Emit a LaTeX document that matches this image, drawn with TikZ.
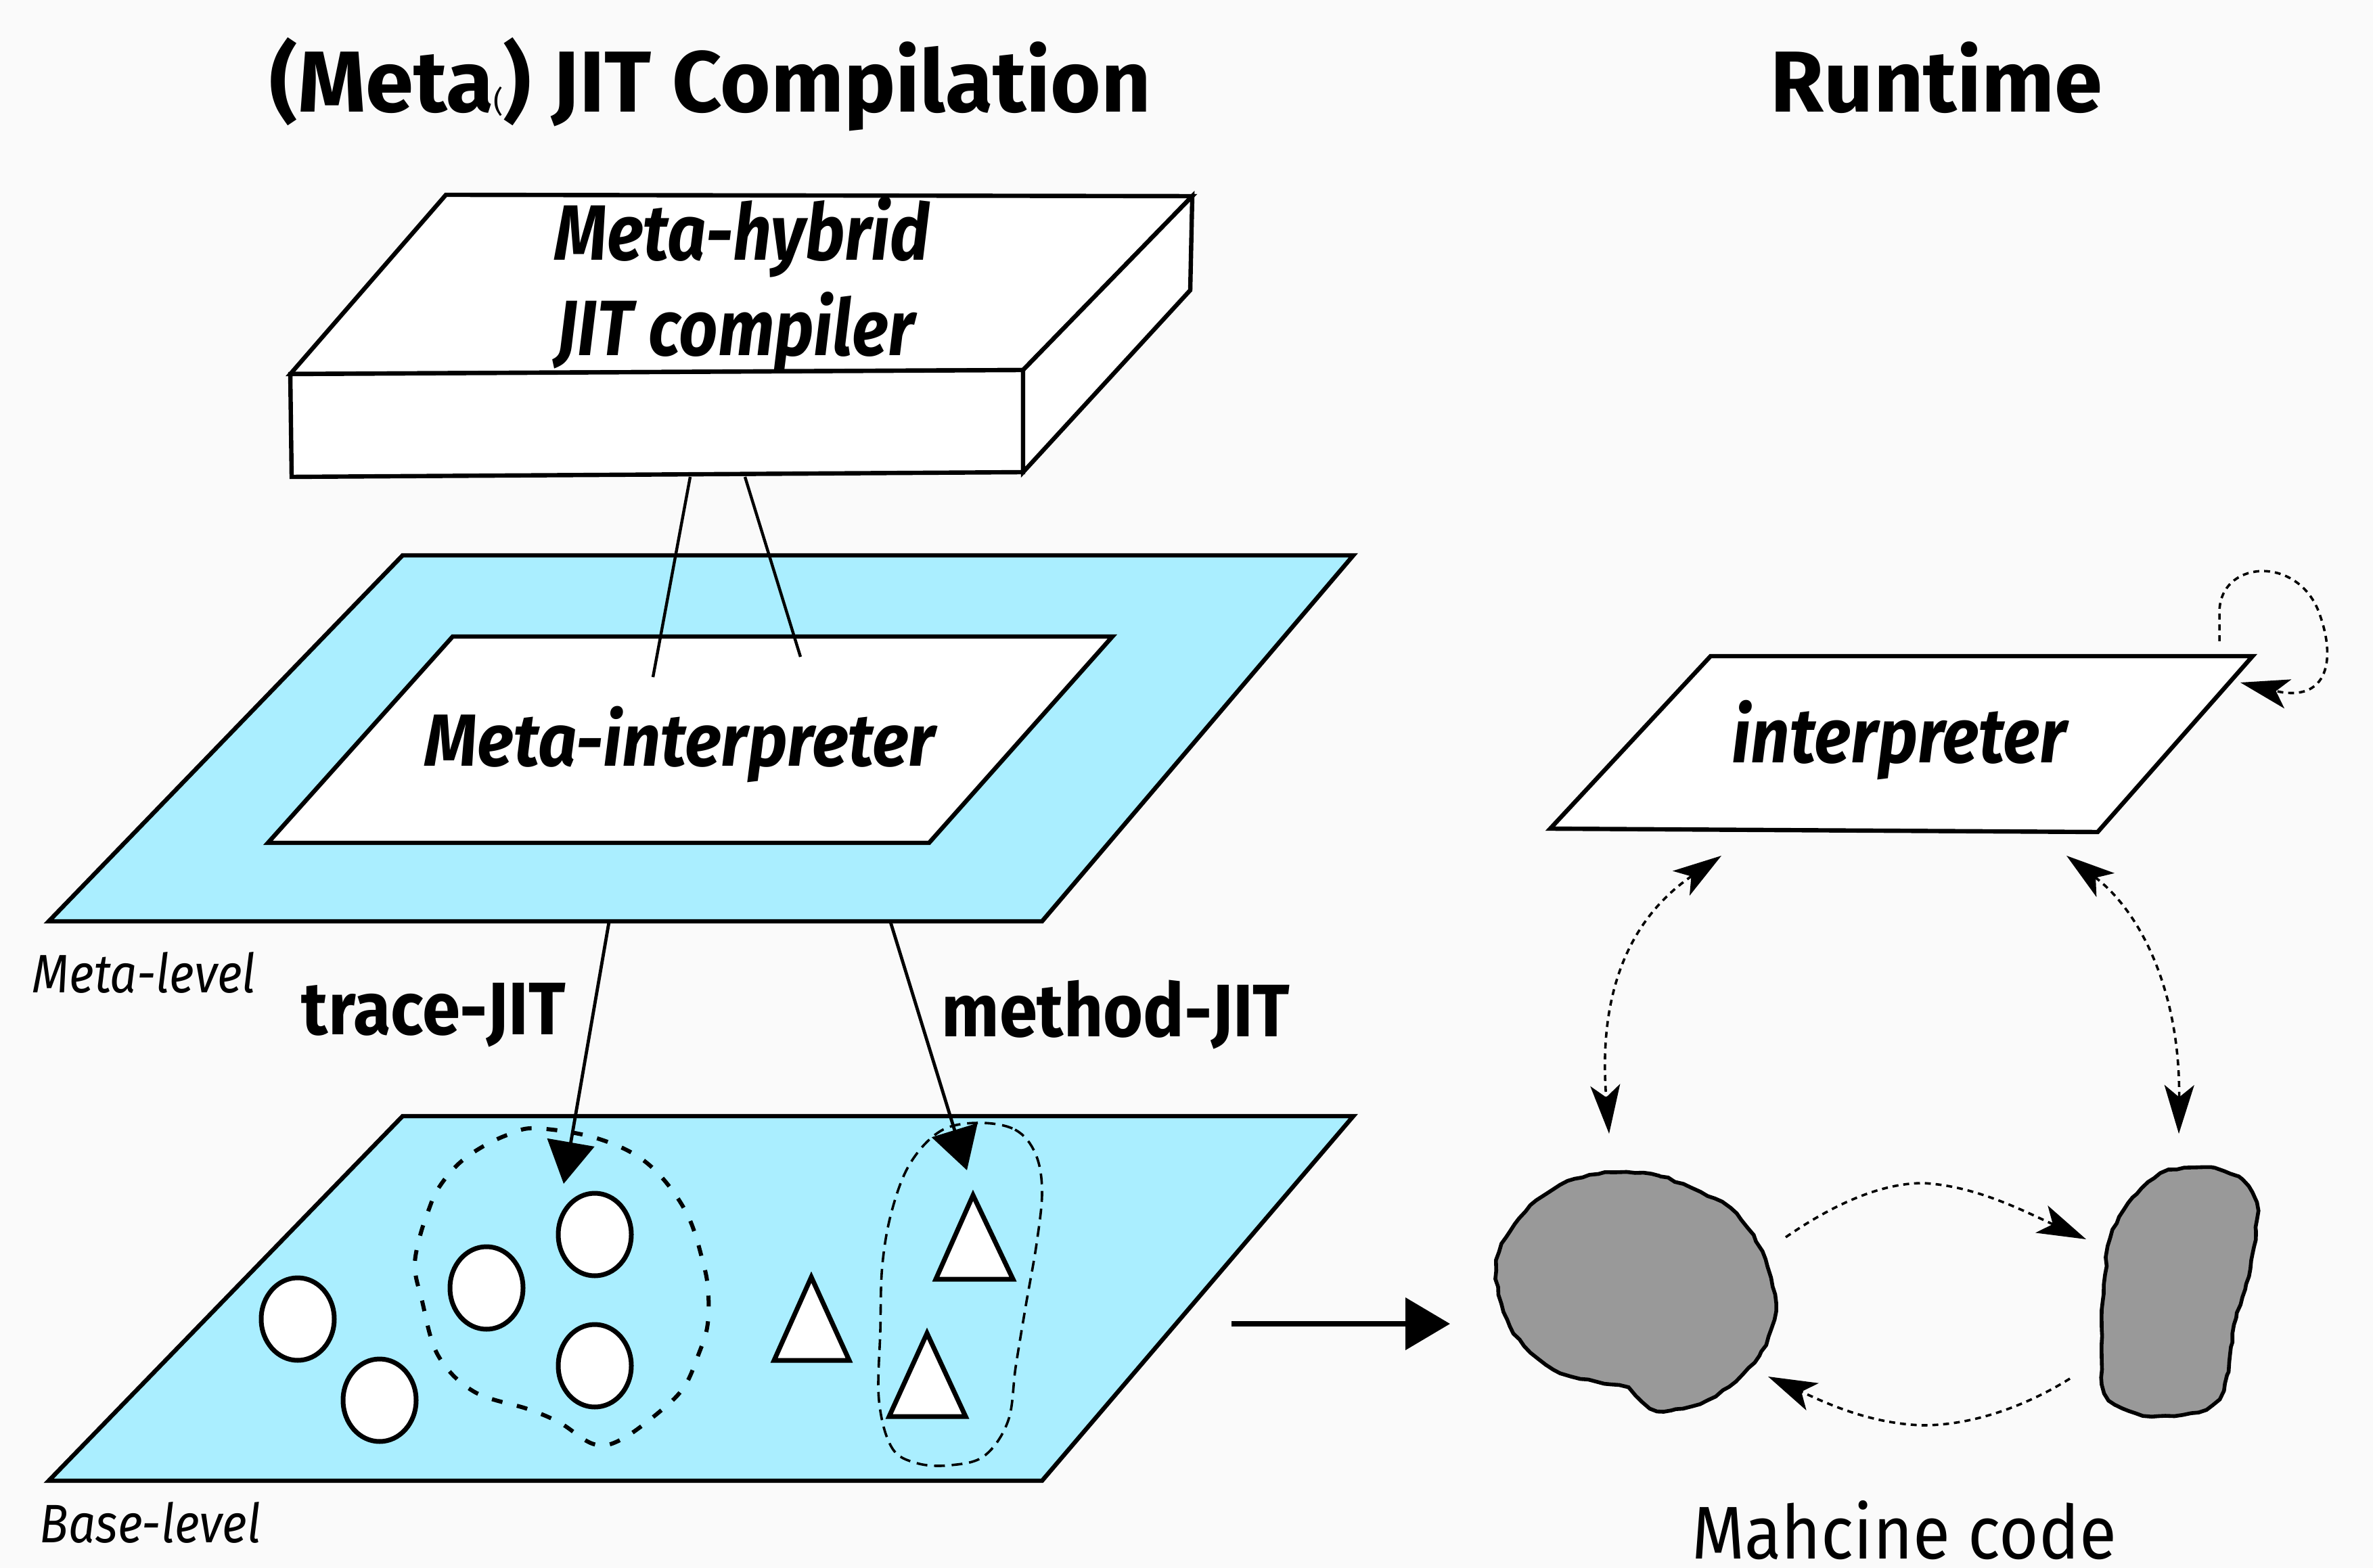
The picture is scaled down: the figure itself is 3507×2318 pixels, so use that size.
\documentclass[tikz,border=0pt]{standalone}
\usepackage{fontspec}
\setmainfont{Fira Sans}
\usetikzlibrary{arrows.meta,decorations.pathmorphing}
\definecolor{bgcol}{HTML}{FAFAFA}
\definecolor{levelblue}{HTML}{AAEEFF}
\definecolor{codegray}{HTML}{999999}

\begin{document}
\begin{tikzpicture}[x=0.25pt,y=-0.25pt,
  edge/.style={line width=1.6pt, line join=miter},
  levelplane/.style={edge, draw=black, fill=levelblue},
  whiteplane/.style={edge, draw=black, fill=white},
  token/.style={draw=black, line width=1.75pt, fill=white},
  link/.style={line width=1.1pt},
  jitarrow/.style={line width=1.2pt, -{Triangle[length=15.5pt,width=17.5pt]}},
  bigarrow/.style={line width=2pt, -{Triangle[length=16.5pt,width=19pt]}},
  traceregion/.style={line width=1.5pt, dash pattern=on 4pt off 5.5pt},
  methodregion/.style={line width=0.9pt, dash pattern=on 4pt off 2.5pt},
  flow/.style={line width=0.9pt, dash pattern=on 2.2pt off 1.8pt},
  dart/.tip={Stealth[length=18pt,width=11pt,inset=4.5pt]},
  codeblob/.style={draw=black, line width=1.4pt, fill=codegray,
    decorate, decoration={random steps, segment length=3pt, amplitude=0.35pt}},
  lbl/.style={inner sep=0pt, anchor=base},
  titlefont/.style={lbl, font=\fontsize{32pt}{36pt}\selectfont\bfseries},
  hybridfont/.style={lbl, font=\fontsize{29pt}{32pt}\selectfont\bfseries\itshape\addfontfeatures{FakeStretch=0.865}},
  metafont/.style={lbl, font=\fontsize{27.3pt}{30pt}\selectfont\bfseries\itshape\addfontfeatures{FakeStretch=0.92}},
  interpfont/.style={lbl, font=\fontsize{28.5pt}{32pt}\selectfont\bfseries\itshape\addfontfeatures{FakeStretch=0.888}},
  jitfont/.style={lbl, font=\fontsize{27.5pt}{30pt}\selectfont\bfseries\addfontfeatures{FakeStretch=0.92}},
  levelfont/.style={lbl, font=\fontsize{20pt}{24pt}\selectfont\itshape\addfontfeatures{FakeStretch=0.885}},
  codefont/.style={lbl, font=\fontsize{27.6pt}{30pt}\selectfont\addfontfeatures{FakeStretch=0.91}}
]
\fill[bgcol] (0,0) rectangle (3507,2318);
\useasboundingbox (0,0) rectangle (3507,2318);

% ---------- titles ----------
\node[titlefont] (titleL) at (1050,166) {(Meta{\fontsize{11pt}{11pt}\selectfont\mdseries(}) JIT Compilation};
\node[titlefont] (titleR) at (2862,166) {Runtime};

% ---------- meta-hybrid JIT compiler slab ----------
\draw[whiteplane] (659,288) -- (1762,290) -- (1512,547) -- (429,553) -- cycle;
\draw[whiteplane] (429,553) -- (1512,547) -- (1512,698) -- (431,705) -- cycle;
\draw[whiteplane] (1512,547) -- (1762,290) -- (1759,429) -- (1512,698) -- cycle;
\node[hybridfont] (hybridA) at (1097,385) {Meta-hybrid};
\node[hybridfont] (hybridB) at (1087,526) {JIT compiler};
\coordinate (compL) at (1020,705);
\coordinate (compR) at (1101,705);

% ---------- meta-level ----------
\draw[levelplane] (595,821) -- (2000,821) -- (1540,1362) -- (72,1362) -- cycle;
\draw[whiteplane] (669,941) -- (1644,941) -- (1373,1246) -- (396,1246) -- cycle;
\node[metafont] (metainterp) at (1005,1133) {Meta-interpreter};
\coordinate (miL) at (965,1001);
\coordinate (miR) at (1183,971);
\draw[link] (compL) -- (miL);
\draw[link] (compR) -- (miR);
\node[levelfont] (metalevel) at (213,1467) {Meta-level};

% ---------- base-level ----------
\draw[levelplane] (595,1650) -- (2000,1650) -- (1540,2189) -- (72,2189) -- cycle;
\node[levelfont] (baselevel) at (222,2280) {Base-level};

% trace region (dashed)
\draw[traceregion] plot[smooth cycle, tension=0.6] coordinates {
  (793,1668) (883,1683) (957,1720) (1013,1790) (1040,1870) (1047,1917)
  (1045,1963) (1032,2003) (1013,2047) (983,2080) (920,2127) (878,2135)
  (827,2103) (780,2083) (700,2057) (647,2003) (623,1920) (613,1873)
  (620,1830) (633,1790) (647,1758) (675,1723) (710,1697) (752,1677)};
% method region (dashed)
\draw[methodregion] plot[smooth cycle, tension=0.6] coordinates {
  (1445,1660) (1500,1670) (1530,1705) (1540,1760) (1532,1838)
  (1516,1930) (1501,2021) (1490,2100) (1455,2152) (1405,2166)
  (1355,2163) (1318,2140) (1299,2070) (1301,1966) (1304,1870)
  (1318,1790) (1345,1720) (1390,1672)};

% values in the base level
\draw[token] (440,1950) ellipse [x radius=54, y radius=61];
\draw[token] (561,2070) ellipse [x radius=54, y radius=61];
\draw[token] (719,1904) ellipse [x radius=54, y radius=61];
\draw[token] (879,1825) ellipse [x radius=54, y radius=61];
\draw[token] (879,2019) ellipse [x radius=54, y radius=61];
\draw[token, line join=miter] (1199,1888) -- (1255,2011) -- (1144,2011) -- cycle;
\draw[token, line join=miter] (1438,1767) -- (1497,1891) -- (1383,1891) -- cycle;
\draw[token, line join=miter] (1370,1971) -- (1427,2094) -- (1314,2094) -- cycle;

% JIT arrows
\coordinate (traceS) at (900,1363);
\coordinate (traceE) at (833,1750);
\coordinate (methodS) at (1316,1363);
\coordinate (methodE) at (1429,1730);
\draw[jitarrow] (traceS) -- (traceE);
\draw[jitarrow] (methodS) -- (methodE);
\node[jitfont] (tracejit) at (641,1529) {trace-JIT};
\node[jitfont] (methodjit) at (1649,1532) {method-JIT};

% compilation to runtime
\coordinate (toRunS) at (1820,1957);
\coordinate (toRunE) at (2143,1957);
\draw[bigarrow] (toRunS) -- (toRunE);

% ---------- runtime ----------
\draw[whiteplane] (2528,970) -- (3329,970) -- (3100,1230) -- (2291,1225) -- cycle;
\node[interpfont] (interp) at (2807,1128) {interpreter};

% machine code blobs
\draw[codeblob] plot[smooth cycle, tension=0.55] coordinates {
  (2392,1733) (2453,1739) (2513,1762) (2557,1786) (2583,1816) (2604,1850)
  (2617,1889) (2624,1927) (2617,1965) (2600,2004) (2565,2042) (2522,2070)
  (2470,2085) (2449,2085) (2427,2072) (2405,2053) (2358,2042) (2306,2029)
  (2262,1999) (2232,1961) (2215,1914) (2212,1863) (2232,1820) (2262,1782)
  (2306,1752) (2349,1737)};
\draw[codeblob] plot[smooth cycle, tension=0.55] coordinates {
  (3245,1726) (3275,1727) (3314,1744) (3334,1778) (3334,1820) (3327,1863)
  (3318,1906) (3305,1948) (3297,1991) (3291,2033) (3279,2068) (3249,2087)
  (3180,2094) (3137,2082) (3111,2059) (3106,2012) (3106,1948) (3111,1884)
  (3115,1842) (3132,1799) (3158,1765) (3193,1735)};
\node[codefont] (mcode) at (2814,2304) {Mahcine code};

% control flow between interpreter and machine code
\coordinate (iBL) at (2544,1265);
\coordinate (iBR) at (3054,1265);
\coordinate (blobL) at (2378,1676);
\coordinate (blobR) at (3220,1676);
\draw[flow, dart-dart] (iBL) .. controls (2420,1350) and (2360,1450) .. (blobL);
\draw[flow, dart-dart] (iBR) .. controls (3160,1345) and (3222,1460) .. (blobR);

\coordinate (loopS) at (3280,948);
\coordinate (loopE) at (3311,1009);
\draw[flow, -dart] (loopS) -- (3280,905) .. controls (3280,830) and (3390,820) .. (3425,900)
  .. controls (3455,975) and (3440,1040) .. (loopE);

\coordinate (lbOut) at (2639,1829);
\coordinate (rbIn) at (3083,1832);
\coordinate (rbOut) at (3059,2038);
\coordinate (lbIn) at (2613,2035);
\draw[flow, -dart] (lbOut) .. controls (2710,1780) and (2780,1749) .. (2842,1749)
  .. controls (2920,1753) and (2990,1790) .. (rbIn);
\draw[flow, -dart] (rbOut) .. controls (3000,2075) and (2920,2107) .. (2842,2107)
  .. controls (2760,2105) and (2690,2070) .. (lbIn);
\end{tikzpicture}
\end{document}
